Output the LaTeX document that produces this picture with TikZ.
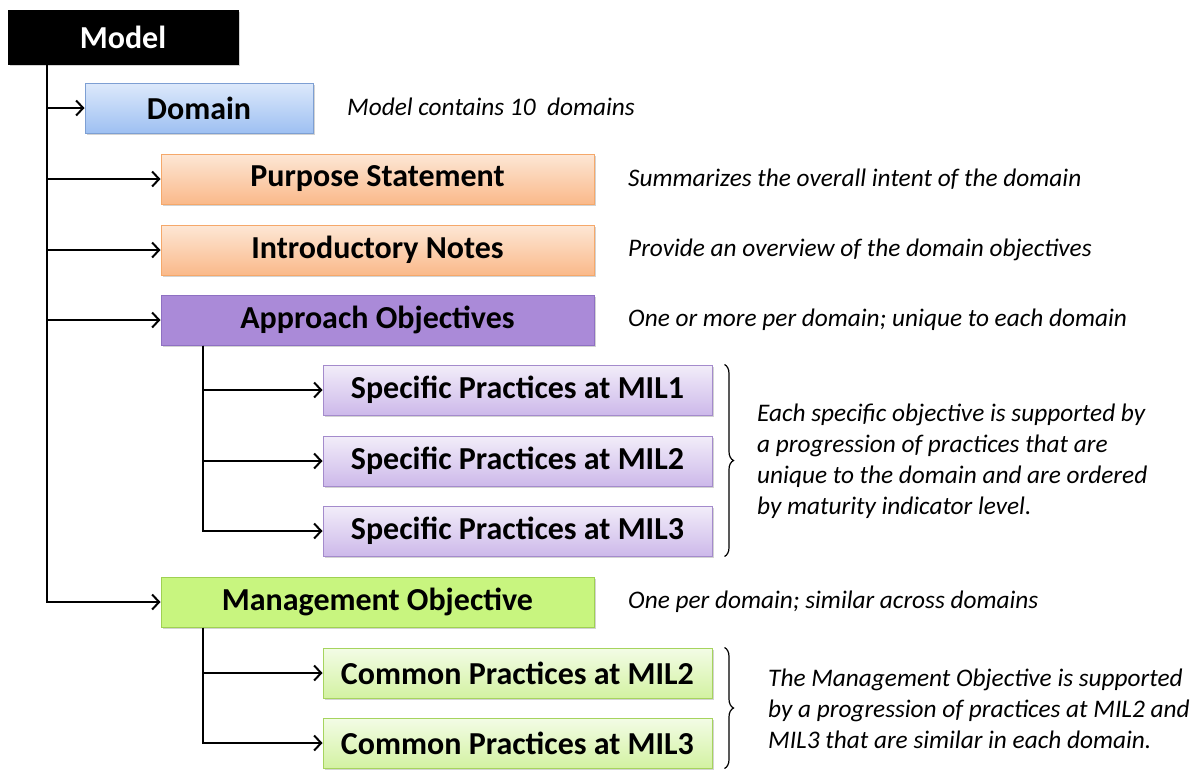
\documentclass[tikz,border=0pt]{standalone}
\usepackage{fontspec}
\setmainfont{Carlito}
\usetikzlibrary{arrows.meta,shadows,calc,decorations.pathreplacing}

\definecolor{domtop}{HTML}{DDE9FB}
\definecolor{dombot}{HTML}{9EC0F2}
\definecolor{domline}{HTML}{7D9FD3}
\definecolor{ortop}{HTML}{FDE7D5}
\definecolor{orbot}{HTML}{FAB98A}
\definecolor{orline}{HTML}{F5A86A}
\definecolor{apfill}{HTML}{AA8AD8}
\definecolor{apline}{HTML}{8E70C2}
\definecolor{sptop}{HTML}{F2EDF9}
\definecolor{spbot}{HTML}{CDB9EA}
\definecolor{spline}{HTML}{A48BCC}
\definecolor{mgfill}{HTML}{C8F57F}
\definecolor{mgline}{HTML}{9FD152}
\definecolor{cptop}{HTML}{F3FCE6}
\definecolor{cpbot}{HTML}{D3F2A2}
\definecolor{cpline}{HTML}{A6D45E}

\tikzset{
  x=1pt, y=-1pt,
  box/.style={draw, line width=1pt, minimum height=50pt, inner sep=0pt,
    font=\fontsize{32}{36}\selectfont\bfseries,
    drop shadow={shadow xshift=1.5pt, shadow yshift=-2pt, opacity=0.35}},
  widebox/.style={box, minimum width=433pt},
  subbox/.style={box, minimum width=389pt},
  dombox/.style={box, minimum width=228pt, draw=domline, top color=domtop, bottom color=dombot},
  orbox/.style={widebox, draw=orline, top color=ortop, bottom color=orbot},
  apbox/.style={widebox, draw=apline, fill=apfill},
  spbox/.style={subbox, draw=spline, top color=sptop, bottom color=spbot},
  mgbox/.style={widebox, draw=mgline, fill=mgfill},
  cpbox/.style={subbox, draw=cpline, top color=cptop, bottom color=cpbot},
  note/.style={anchor=west, inner sep=0pt, font=\fontsize{25.3}{31}\selectfont\itshape},
  arr/.style={line width=2pt, -{Straight Barb[length=7pt,width=15pt,line width=2pt]}},
  brc/.style={line width=1.2pt, decorate, decoration={brace, amplitude=9pt}}
}

\begin{document}
\begin{tikzpicture}
\useasboundingbox (0,0) rectangle (1202,769);

% boxes
\node[box, minimum width=230pt, minimum height=54pt, fill=black, draw=black,
      text=white] (model) at (123,37) {Model};
\node[dombox] (dom) at (199,108) {Domain};
\node[orbox] (purp) at (377.5,179) {Purpose Statement};
\node[orbox] (intro) at (377.5,250) {Introductory Notes};
\node[apbox] (appr) at (377.5,320) {Approach Objectives};
\node[spbox] (sp1) at (517.5,390) {Specific Practices at MIL1};
\node[spbox] (sp2) at (517.5,461) {Specific Practices at MIL2};
\node[spbox] (sp3) at (517.5,531) {Specific Practices at MIL3};
\node[mgbox] (mgmt) at (377.5,602) {Management Objective};
\node[cpbox] (cp2) at (517.5,673) {Common Practices at MIL2};
\node[cpbox] (cp3) at (517.5,743) {Common Practices at MIL3};

% connectors
\coordinate (t0) at ($(model.south west)+(39,0)$);
\coordinate (t1) at ($(appr.south west)+(42,0)$);
\coordinate (t2) at ($(mgmt.south west)+(42,0)$);
\foreach \n in {dom,purp,intro,appr,mgmt} \draw[arr] (t0) |- (\n.west);
\foreach \n in {sp1,sp2,sp3} \draw[arr] (t1) |- (\n.west);
\foreach \n in {cp2,cp3} \draw[arr] (t2) |- (\n.west);

% descriptions
\node[note] (ndom) at (347,107) {Model contains 10~ domains};
\node[note] (npurp) at (628,179) {Summarizes the overall intent of the domain};
\node[note] (nintro) at (628,250) {Provide an overview of the domain objectives};
\node[note] (nappr) at (628,320) {One or more per domain; unique to each domain};
\node[note] (nmgmt) at (628,602) {One per domain; similar across domains};

% braces
\draw[brc] ($(sp1.north east)+(12,0)$) -- ($(sp3.south east)+(12,0)$);
\draw[brc] ($(cp2.north east)+(12,0)$) -- ($(cp3.south east)+(12,0)$);
\node[note, align=left] (nsp) at (757,461)
  {Each specific objective is supported by\\
   a progression of practices that are\\
   unique to the domain and are ordered\\
   by maturity indicator level.};
\node[note, align=left] (ncp) at (768,709)
  {The Management Objective is supported\\
   by a progression of practices at MIL2 and\\
   MIL3 that are similar in each domain.};
\end{tikzpicture}
\end{document}
